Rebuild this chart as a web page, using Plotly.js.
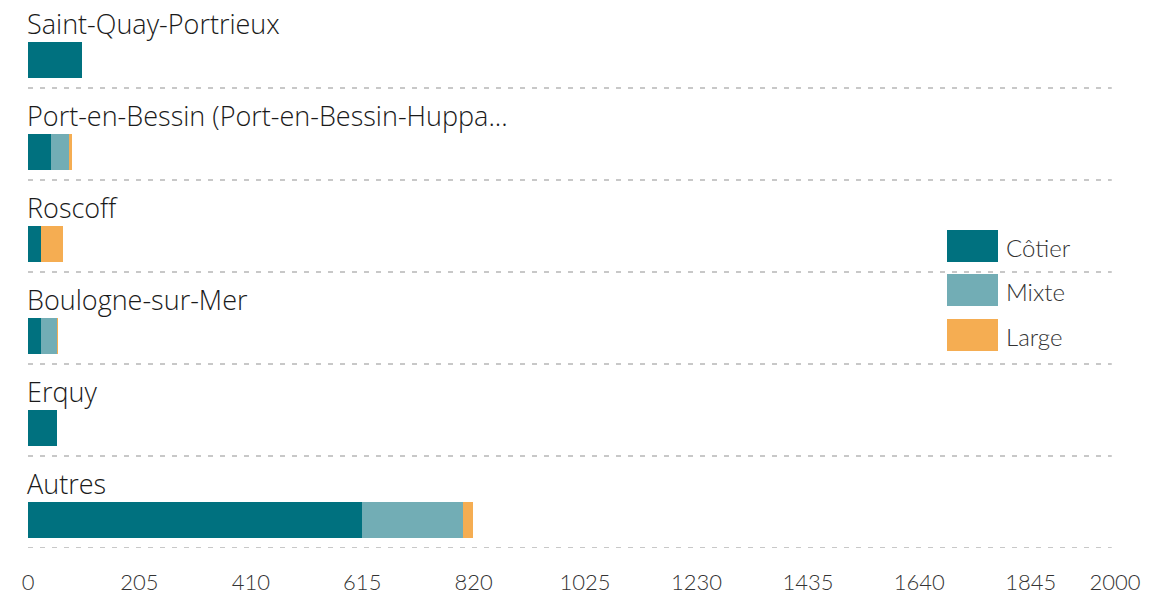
<!DOCTYPE html>
<html><head><meta charset="utf-8">
<script src="https://cdn.plot.ly/plotly-3.0.1.min.js"></script>
<style>html,body{margin:0;padding:0;background:#fff;}#chart{width:1150px;height:598px;}</style>
</head><body><div id="chart"></div>
<script>
var categories = ["Saint-Quay-Portrieux","Port-en-Bessin (Port-en-Bessin-Huppa...","Roscoff","Boulogne-sur-Mer","Erquy","Autres"];
var seriesNames = ["Côtier","Mixte","Large"];
var cotier = [100, 43, 24, 23, 54, 615];
var mixte  = [0, 33, 0, 31, 0, 185];
var large  = [0, 5, 40, 2, 0, 18];
var tickVals = [0,205,410,615,820,1025,1230,1435,1640,1845,2000];
var colors = ["#00717f","#72adb5","#f5ad52"];

var W = 1150, H = 598, mL = 28, mR = 35, mT = 0, mB = 50;
var pw = W - mL - mR, ph = H - mT - mB;
function px(x){return (x - mL)/pw;}
function py(y){return 1 - (y - mT)/ph;}

var idx = categories.map(function(_, i){return i;});
var all = [cotier, mixte, large];
var traces = all.map(function(vals, k){
  return {type:"bar", orientation:"h", name:seriesNames[k], x:vals, y:idx,
    width:0.39, marker:{color:colors[k], line:{width:0}}, showlegend:false,
    hovertemplate:"%{x}<extra>"+seriesNames[k]+"</extra>"};
});

var shapes = [], annotations = [];
categories.forEach(function(c, i){
  shapes.push({type:"line", xref:"paper", yref:"y", x0:0, x1:0.997, y0:i+0.304, y1:i+0.304,
    line:{color:"#c8c8c8", width:2, dash:"5px,7px"}});
  annotations.push({xref:"x", yref:"y", x:0, y:i-0.40, xanchor:"left", yanchor:"middle",
    text:c, showarrow:false, xshift:-3, font:{family:"Open Sans", size:27, weight:300, color:"#1a1a1a"}});
});
// legend
var legY = [246, 290, 335];
seriesNames.forEach(function(n, k){
  shapes.push({type:"rect", xref:"paper", yref:"paper", x0:px(947), x1:px(998),
    y0:py(legY[k]-16), y1:py(legY[k]+16), fillcolor:colors[k], line:{width:0}});
  annotations.push({xref:"paper", yref:"paper", x:px(1004), y:py(legY[k]+1), xanchor:"left", yanchor:"middle",
    text:n, showarrow:false, font:{family:"Lato", size:24, weight:300, color:"#333"}});
});

var layout = {
  width:W, height:H, margin:{l:mL, r:mR, t:mT, b:mB},
  paper_bgcolor:"#fff", plot_bgcolor:"#fff", barmode:"stack", bargap:0,
  xaxis:{range:[0,2000], tickvals:tickVals, ticktext:tickVals.map(String), showgrid:false, zeroline:false,
    showline:false, ticks:"", ticklabelstandoff:19, tickfont:{family:"Lato", size:22, weight:300, color:"#333"}},
  yaxis:{range:[5.304,-0.652], showticklabels:false, showgrid:false, zeroline:false, showline:false, ticks:""},
  shapes:shapes, annotations:annotations, showlegend:false
};
Plotly.newPlot("chart", traces, layout, {displayModeBar:false, staticPlot:true});
</script></body></html>
